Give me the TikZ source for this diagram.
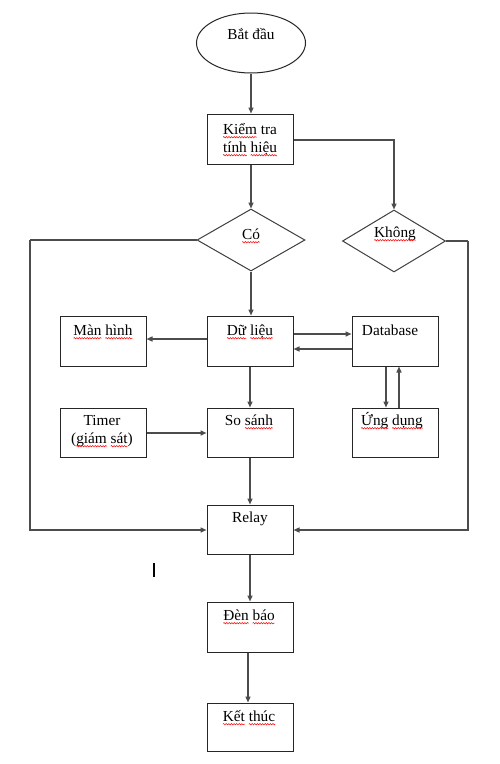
\documentclass[tikz,border=0pt]{standalone}
\usepackage{fontspec}
\setmainfont{Liberation Serif}
\usetikzlibrary{arrows.meta,shapes.geometric,decorations.pathmorphing}
\newcommand\spl[1]{\tikz[baseline=(w.base)]{\node[inner sep=0pt,outer sep=0pt,anchor=base] (w) at (0,0) {#1};\draw[overlay,red,line width=0.5pt,decorate,decoration={snake,amplitude=0.7pt,segment length=2.6pt}] ([yshift=-3.2pt]w.base west) -- ([yshift=-3.2pt]w.base east);}}
\begin{document}
\begin{tikzpicture}[x=1pt,y=-1pt,
  box/.style={draw=black!85,line width=1pt,minimum width=86pt,minimum height=50pt,inner sep=0pt},
  oval/.style={ellipse,draw=black!85,line width=1pt,minimum width=109pt,minimum height=60pt,inner sep=0pt},
  dia/.style={diamond,draw=black!75,line width=1pt,minimum height=62pt,inner sep=0pt},
  txt/.style={anchor=base,inner sep=0pt,font=\fontsize{15.3}{19}\selectfont},
  conn/.style={draw=black!70,line width=1.4pt,-{Triangle[length=6pt,width=5pt]}},
  link/.style={draw=black!70,line width=1.4pt}]
\useasboundingbox[fill=white] (0,0) rectangle (500,764);

% shapes
\node[oval] (start) at (251,43) {};
\node[box] (check) at (250,139) {};
\node[dia,minimum width=108pt] (co) at (251,240) {};
\node[dia,minimum width=103pt] (khong) at (394,241) {};
\node[box] (disp) at (103,341) {};
\node[box] (data) at (250,341) {};
\node[box] (db) at (395,341) {};
\node[box,minimum height=49pt] (timer) at (103,432.5) {};
\node[box,minimum height=49pt] (cmp) at (250,432.5) {};
\node[box,minimum height=49pt] (app) at (395,432.5) {};
\node[box,minimum height=49pt] (relay) at (250,529.5) {};
\node[box] (lamp) at (250,627) {};
\node[box,minimum height=48pt] (stop) at (250,727) {};

% texts
\node[txt] (tstart) at (251,39) {Bắt đầu};
\node[txt] (tcheck1) at (250,134) {\spl{Kiểm} tra};
\node[txt] (tcheck2) at (250,152) {\spl{tính} \spl{hiệu}};
\node[txt] (tco) at (251,239) {\spl{Có}};
\node[txt] (tkhong) at (395,237) {\spl{Không}};
\node[txt] (tdisp) at (103,335) {\spl{Màn} \spl{hình}};
\node[txt] (tdata) at (250,335) {\spl{Dữ} \spl{liệu}};
\node[txt] (tdb) at (390,335) {Database};
\node[txt] (ttimer1) at (102,425) {Timer};
\node[txt] (ttimer2) at (102,443) {(\spl{giám} \spl{sát})};
\node[txt] (tcmp) at (249,425) {So \spl{sánh}};
\node[txt] (tapp) at (392,425) {\spl{Ứng} \spl{dụng}};
\node[txt] (trelay) at (250,522) {Relay};
\node[txt] (tlamp) at (249,620) {\spl{Đèn} \spl{báo}};
\node[txt] (tstop) at (249,721) {\spl{Kết} \spl{thúc}};

% connectors
\coordinate (lc) at (30,240);
\coordinate (rc) at (468,241);
\draw[conn] (start.south) -- (start.south |- check.north);
\draw[conn] (co.north |- check.south) -- (co.north);
\draw[conn] ([yshift=-1pt]check.east) -| (khong.north);
\draw[conn] (co.south) -- (co.south |- data.north);
\draw[link] (co.west) -- (lc);
\draw[conn] (lc) |- ([yshift=-0.5pt]relay.west);
\draw[link] (khong.east) -- (rc);
\draw[conn] (rc) |- ([yshift=-0.5pt]relay.east);
\draw[conn] ([yshift=2pt]data.west) -- ([yshift=2pt]disp.east);
\draw[conn] ([yshift=7pt]data.east) -- ([yshift=7pt]db.west);
\draw[conn] ([yshift=-8pt]db.west) -- ([yshift=-8pt]data.east);
\draw[conn] ([xshift=-9pt]db.south) -- ([xshift=-9pt]app.north);
\draw[conn] ([xshift=4pt]app.north) -- ([xshift=4pt]db.south);
\draw[conn] (data.south) -- (cmp.north);
\draw[conn] ([yshift=-0.5pt]timer.east) -- ([yshift=-0.5pt]cmp.west);
\draw[conn] (cmp.south) -- (relay.north);
\draw[conn] (relay.south) -- (lamp.north);
\draw[conn] ([xshift=-2pt]lamp.south) -- ([xshift=-2pt]stop.north);

% text cursor mark
\draw[line width=2pt] (154,563) -- (154,577);
\end{tikzpicture}
\end{document}
